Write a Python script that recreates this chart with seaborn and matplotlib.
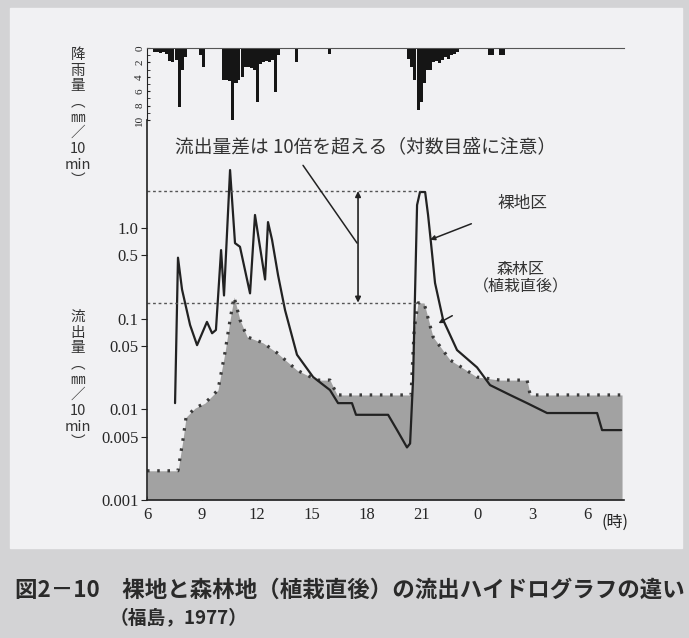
import matplotlib
matplotlib.use("Agg")
import matplotlib.pyplot as plt
import numpy as np
import seaborn as sns
from matplotlib.patches import Rectangle

# 降雨量 (mm/10min) : 10分ごとの棒
rain_t = [6.33, 6.5, 6.67, 6.83, 7.0, 7.17, 7.33, 7.5, 7.67, 7.83, 8.0,
          8.83, 9.0,
          10.1, 10.27, 10.43, 10.6, 10.77, 10.93, 11.1, 11.27, 11.43, 11.6, 11.77,
          11.93, 12.1, 12.27, 12.43, 12.6, 12.77, 12.93, 13.1,
          14.05, 15.85,
          20.2, 20.37, 20.53, 20.7, 20.87, 21.03, 21.2, 21.37, 21.53, 21.7, 21.87,
          22.03, 22.2, 22.37, 22.53, 22.7, 22.87,
          24.6, 24.77, 25.2, 25.37]
rain_mm = [0.6, 0.6, 0.7, 0.6, 0.8, 1.8, 2.0, 1.6, 8.2, 3.0, 1.2,
           1.0, 2.6,
           4.4, 4.4, 4.6, 10.0, 4.9, 4.4, 4.0, 2.6, 2.6, 2.8, 3.0,
           7.5, 2.2, 1.9, 1.8, 1.9, 1.6, 6.1, 1.0,
           1.9, 0.8,
           1.5, 2.6, 4.5, 8.6, 7.5, 4.9, 3.0, 3.0, 2.0, 1.8, 2.1,
           1.6, 1.2, 1.5, 1.0, 0.8, 0.6,
           1.0, 1.0, 1.0, 1.0]

# 裸地区 流出量 (mm/10min)
bare_t = [7.53, 7.69, 7.91, 8.35, 8.73, 9.27, 9.55, 9.76, 10.04, 10.2, 10.53,
          10.8, 11.07, 11.62, 11.89, 12.44, 12.6, 12.82, 13.15, 13.53, 14.18,
          15.06, 15.98, 16.42, 17.18, 17.4, 19.15, 19.64, 20.18, 20.35,
          20.51, 20.73, 20.89, 21.17, 21.33, 21.49, 21.71, 22.15, 22.91,
          24.0, 24.71, 25.8, 26.73, 27.82, 30.55, 30.82, 31.86]
bare_q = [0.0117, 0.47, 0.21, 0.085, 0.051, 0.092, 0.069, 0.075, 0.57, 0.18, 4.35,
          0.68, 0.62, 0.19, 1.39, 0.27, 1.16, 0.74, 0.30, 0.124, 0.040,
          0.0227, 0.0163, 0.0117, 0.0117, 0.0087, 0.0087, 0.0059, 0.0038, 0.0042,
          0.021, 1.79, 2.49, 2.49, 1.39, 0.68, 0.247, 0.097, 0.045,
          0.029, 0.0185, 0.0144, 0.0117, 0.0091, 0.0091, 0.0059, 0.0059]

# 森林区（植栽直後）流出量
forest_t = [6.0, 7.69, 7.96, 8.13, 8.62, 9.16, 9.87, 10.25, 10.53, 10.75, 11.07,
            11.46, 12.33, 13.09, 14.18, 15.27, 15.98, 16.37, 20.4, 20.57, 20.78,
            21.11, 21.6, 22.53, 24.0, 25.26, 26.73, 26.9, 31.91]
forest_q = [0.0021, 0.0021, 0.0046, 0.0082, 0.0103, 0.0117, 0.0163, 0.042, 0.097,
            0.173, 0.097, 0.063, 0.054, 0.042, 0.027, 0.021, 0.021, 0.0144, 0.0144,
            0.075, 0.149, 0.149, 0.063, 0.035, 0.0227, 0.021, 0.021, 0.0144, 0.0144]

x_ticks = [6, 9, 12, 15, 18, 21, 24, 27, 30]
x_labels = ["6", "9", "12", "15", "18", "21", "0", "3", "6"]
q_ticks = [0.001, 0.005, 0.01, 0.05, 0.1, 0.5, 1.0]
q_labels = ["0.001", "0.005", "0.01", "0.05", "0.1", "0.5", "1.0"]
rain_ticks = [0, 2, 4, 6, 8, 10]

sns.set_style("ticks")
plt.rcParams["font.family"] = ["Liberation Serif", "Noto Sans CJK JP", "DejaVu Sans"]

W, H = 689, 638
fig = plt.figure(figsize=(W / 100, H / 100), dpi=100)
fig.patch.set_facecolor("#d3d3d5")
fig.patches.append(Rectangle((10 / W, 1 - 548 / H), 672 / W, 540 / H,
                             transform=fig.transFigure, color="#f1f1f3", zorder=-1))


def box(l, t, r, b):
    return [l / W, 1 - b / H, (r - l) / W, (b - t) / H]


ink = "#222222"
xmin, xmax = 6, 32

# 降雨量
ax_r = fig.add_axes(box(147, 48, 623.7, 120))
ax_r.patch.set_alpha(0)
ax_r.bar(rain_t, rain_mm, width=1 / 6, align="edge", color="#151515", lw=0)
ax_r.set_xlim(xmin, xmax)
ax_r.set_ylim(10, 0)
ax_r.set_xticks([])
ax_r.set_yticks(rain_ticks)
ax_r.set_yticklabels([str(v) for v in rain_ticks], rotation=90, fontsize=8, va="center")
ax_r.set_yticks(np.arange(0, 11, 1), minor=True)
ax_r.tick_params(axis="y", which="both", direction="in", length=2, color=ink, pad=2)
for s in ["bottom", "right"]:
    ax_r.spines[s].set_visible(False)
ax_r.spines["top"].set_color("#555555")
ax_r.spines["left"].set_color(ink)

# 流出量
ax_q = fig.add_axes(box(147, 120, 623.7, 500))
ax_q.patch.set_alpha(0)
ax_q.set_yscale("log")
ax_q.fill_between(forest_t, 0.001, forest_q, color="#a2a2a2", lw=0)
sns.lineplot(x=forest_t, y=forest_q, ax=ax_q, estimator=None, sort=False,
             color="#3a3a3a", lw=2.3, linestyle=(0, (0.8, 2.4)))
sns.lineplot(x=bare_t, y=bare_q, ax=ax_q, estimator=None, sort=False,
             color=ink, lw=1.6)

cjk = ["Noto Sans CJK JP", "DejaVu Sans"]

# 参照線と矢印
ax_q.hlines([2.55, 0.15], xmin, 20.9, colors="#555555", lw=1.0, linestyles=(0, (2, 2)))
ax_q.annotate("", xy=(17.51, 2.55), xytext=(17.51, 0.15),
              arrowprops=dict(arrowstyle="<|-|>", color=ink, lw=1.2,
                              mutation_scale=8, shrinkA=0, shrinkB=0))
ax_q.text(17.9, 7.8, "流出量差は 10倍を超える（対数目盛に注意）", ha="center", va="center",
          fontsize=13.5, color="#333333", family=cjk)
ax_q.plot([14.51, 17.46], [4.9, 0.68], color=ink, lw=1.1)
ax_q.annotate("裸地区", xy=(21.44, 0.74), xytext=(26.5, 1.85), ha="center", va="center",
              fontsize=12, color="#333333", family=cjk,
              arrowprops=dict(arrowstyle="-|>", color=ink, lw=1.1, mutation_scale=7,
                              shrinkA=18, shrinkB=0))
ax_q.annotate("森林区\n（植栽直後）", xy=(21.9, 0.089), xytext=(26.4, 0.28),
              ha="center", va="center", fontsize=11.5, color="#333333", linespacing=1.0,
              family=cjk,
              arrowprops=dict(arrowstyle="-|>", color=ink, lw=1.1, mutation_scale=7,
                              shrinkA=26, shrinkB=0))

ax_q.set_xlim(xmin, xmax)
ax_q.set_ylim(0.001, 15.5)
ax_q.set_xticks(x_ticks)
ax_q.set_xticklabels(x_labels, fontsize=12)
ax_q.set_yticks(q_ticks)
ax_q.set_yticklabels(q_labels, fontsize=12)
ax_q.minorticks_off()
ax_q.tick_params(axis="y", direction="out", length=4, color=ink, pad=2)
ax_q.tick_params(axis="x", direction="in", length=3, color=ink, pad=5)
for s in ["top", "right"]:
    ax_q.spines[s].set_visible(False)
for s in ["left", "bottom"]:
    ax_q.spines[s].set_color(ink)
    ax_q.spines[s].set_linewidth(1.2)
ax_q.set_xlabel("")
ax_q.set_ylabel("")

fig.text(615 / W, 1 - 522 / H, "(時)", ha="center", va="center", fontsize=11.5,
         family=cjk, color=ink)

# 縦書きの軸ラベル
fig.text(78 / W, 1 - 48 / H, "降\n雨\n量\n︵\n㎜\n／\n10\nmin\n︶", ha="center", va="top",
         fontsize=10.5, linespacing=1.15, family=cjk, color="#333333")
fig.text(78 / W, 1 - 310 / H, "流\n出\n量\n︵\n㎜\n／\n10\nmin\n︶", ha="center", va="top",
         fontsize=10.5, linespacing=1.15, family=cjk, color="#333333")

# 図の説明
fig.text(15 / W, 1 - 590 / H, "図2－10　裸地と森林地（植栽直後）の流出ハイドログラフの違い",
         ha="left", va="center", fontsize=16.2, fontweight="bold", family=cjk, color="#2a2a2a")
fig.text(110 / W, 1 - 618 / H, "（福島，1977）", ha="left", va="center", fontsize=13.5,
         fontweight="bold", family=cjk, color="#2a2a2a")

fig.savefig("out.png", dpi=100, facecolor=fig.get_facecolor())
